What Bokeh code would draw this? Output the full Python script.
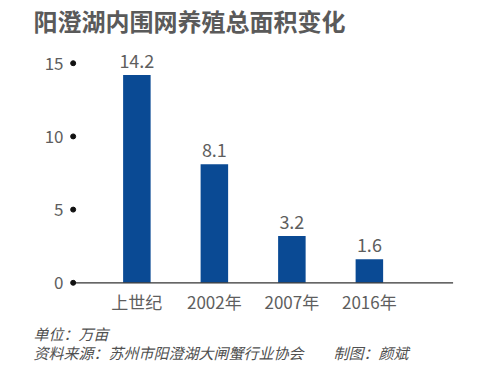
from bokeh.plotting import figure
from bokeh.models import ColumnDataSource, Title, FixedTicker, Range1d
from bokeh.embed import file_html
from bokeh.resources import INLINE

# ---- data ----
categories = ["上世纪", "2002年", "2007年", "2016年"]
values = [14.2, 8.1, 3.2, 1.6]
value_labels = ["14.2", "8.1", "3.2", "1.6"]
y_ticks = [0, 5, 10, 15]
title_text = "阳澄湖内围网养殖总面积变化"
unit_text = "单位：万亩"
source_text = "资料来源：苏州市阳澄湖大闸蟹行业协会　　制图：颜斌"

BAR = "#0a4a94"
GRAY = "#5e5e5e"
CJK = "Noto Sans CJK SC"

xs = list(range(len(categories)))
src = ColumnDataSource(dict(x=xs, top=values, lab=value_labels))

x_start, x_end = -0.908, 4.15
y_start, y_end = -0.39, 15.87
dot_x = -0.822
base_end = 4.08

p = figure(width=477, height=377, output_backend="svg", toolbar_location=None,
           x_range=Range1d(x_start, x_end), y_range=Range1d(y_start, y_end),
           min_border_left=66, min_border_right=19, min_border_top=50, min_border_bottom=89,
           outline_line_color=None, background_fill_color="white", border_fill_color="white")
p.grid.visible = False

p.vbar(x="x", top="top", bottom=0, width=0.355, source=src, color=BAR, line_color=None)
p.text(x="x", y="top", text="lab", source=src, text_align="center", text_baseline="bottom",
       y_offset=-7, text_font_size="18px", text_color=GRAY, text_font={"value": CJK})

# baseline and tick dots
p.segment(x0=[dot_x], y0=[0], x1=[base_end], y1=[0], line_color="#333333", line_width=1.2)
p.scatter(x=[dot_x] * len(y_ticks), y=y_ticks, size=5, color="#111111")

# axes
p.xaxis.ticker = FixedTicker(ticks=xs)
p.xaxis.major_label_overrides = {i: c for i, c in zip(xs, categories)}
p.xaxis.axis_line_color = None
p.xaxis.major_tick_line_color = None
p.xaxis.minor_tick_line_color = None
p.xaxis.major_label_standoff = -6
p.xaxis.major_label_text_font_size = "17px"
p.xaxis.major_label_text_color = GRAY
p.xaxis.major_label_text_font = CJK

p.yaxis.ticker = FixedTicker(ticks=y_ticks)
p.yaxis.axis_line_color = None
p.yaxis.major_tick_line_color = None
p.yaxis.minor_tick_line_color = None
p.yaxis.major_label_standoff = -3
p.yaxis.major_label_text_font_size = "17px"
p.yaxis.major_label_text_color = GRAY
p.yaxis.major_label_text_font = CJK

# title (spacer first: closest to the frame) and footer
p.title.text = ""
p.add_layout(Title(text=" ", text_font_size="1px", standoff=10), "above")
p.add_layout(Title(text=title_text, align="left", offset=-33, standoff=0,
                   text_font=CJK, text_font_size="24px", text_font_style="bold",
                   text_color="#5a5a5a"), "above")

p.add_layout(Title(text=unit_text + "\n" + source_text, align="left", offset=-33, standoff=10,
                   text_font=CJK, text_line_height=0.92,
                   text_font_size="15px", text_font_style="italic", text_color="#505050"), "below")

open("out.html", "w").write(file_html(p, INLINE))
